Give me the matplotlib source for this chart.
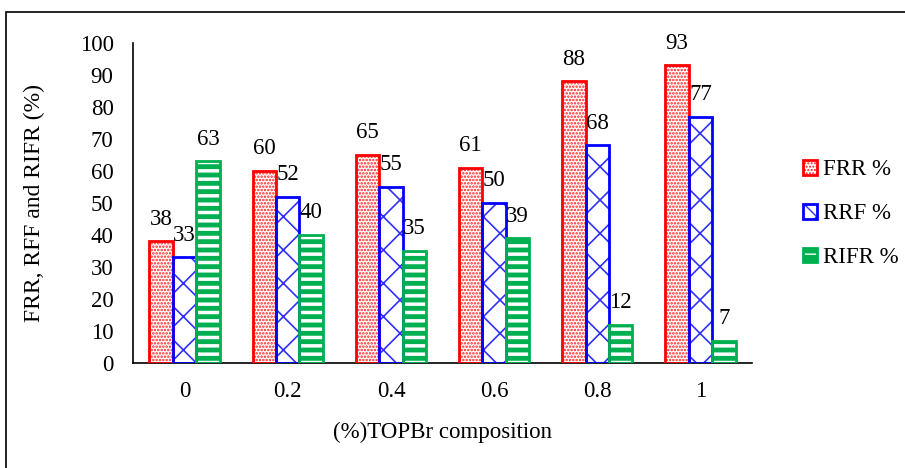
import numpy as np
import matplotlib
matplotlib.use("Agg")
import matplotlib.pyplot as plt
from matplotlib.patches import Rectangle

plt.rcParams['font.family'] = ['Liberation Serif', 'DejaVu Serif']

# data
kategori = ['0', '0.2', '0.4', '0.6', '0.8', '1']
frr = [38, 60, 65, 61, 88, 93]
rrf = [33, 52, 55, 50, 68, 77]
rifr = [63, 40, 35, 39, 12, 7]
nama_seri = ['FRR %', 'RRF %', 'RIFR %']

fig = plt.figure(figsize=(9.05, 4.68), dpi=100)
ax = fig.add_axes([0.147, 0.2244, 0.684, 0.6837])

# bingkai luar gambar
fig.patches.append(Rectangle((6 / 905, -0.1), 1.2, 1.1 - 12 / 468, transform=fig.transFigure,
                             fill=False, edgecolor='black', linewidth=1.2))

x = np.arange(len(kategori))
lebar = 0.227

# (warna tepi, warna isi, warna arsir, pola arsir, tebal arsir)
gaya = [
    ('#FF0000', 'white', '#FF2020', '.....', 1.2),
    ('#0000FF', 'white', '#3030FF', 'x', 1.2),
    ('#00B050', '#00B050', 'white', '--', 2.5),
]

handles = []
for i, (nilai, (tepi, isi, warna_arsir, pola, tebal)) in enumerate(zip([frr, rrf, rifr], gaya)):
    posisi = x + (i - 1) * lebar
    with plt.rc_context({'hatch.linewidth': tebal}):
        isi_bar = ax.bar(posisi, nilai, lebar, color=isi, edgecolor=warna_arsir,
                         hatch=pola, linewidth=0, zorder=2)
    for p in isi_bar:
        if hasattr(p, 'set_hatch_linewidth'):
            p.set_hatch_linewidth(tebal)
    garis_bar = ax.bar(posisi, nilai, lebar, fill=False, edgecolor=tepi, linewidth=2, zorder=3)
    handles.append((isi_bar[0], garis_bar[0]))
    for xx, v in zip(posisi, nilai):
        ax.annotate(str(v), (xx, v), xytext=(0, 12), textcoords='offset points',
                    ha='center', va='baseline', fontsize=16.5)

ax.set_xlim(-0.5, len(kategori) - 0.5)
ax.set_ylim(0, 100)
ax.set_yticks(np.arange(0, 101, 10))
ax.set_xticks(x)
ax.set_xticklabels(kategori)
ax.tick_params(axis='both', length=0, labelsize=16.5)
ax.tick_params(axis='x', pad=13)
ax.tick_params(axis='y', pad=14)
for s in ['top', 'right']:
    ax.spines[s].set_visible(False)
ax.spines['left'].set_linewidth(1.2)
ax.spines['bottom'].set_linewidth(1.2)

ax.set_ylabel('FRR, RFF and RIFR (%)', fontsize=17)
ax.yaxis.set_label_coords(-0.142, 0.5)
ax.set_xlabel('(%)TOPBr composition', fontsize=16.5)
ax.xaxis.set_label_coords(0.5, -0.185)

ax.legend(handles, nama_seri, loc='center left', bbox_to_anchor=(0.875, 0.543),
          bbox_transform=fig.transFigure, frameon=False, fontsize=16.5,
          handlelength=0.6, handleheight=0.6, handletextpad=0.25, labelspacing=1.0,
          borderpad=0)

fig.savefig('out.png', dpi=100)
